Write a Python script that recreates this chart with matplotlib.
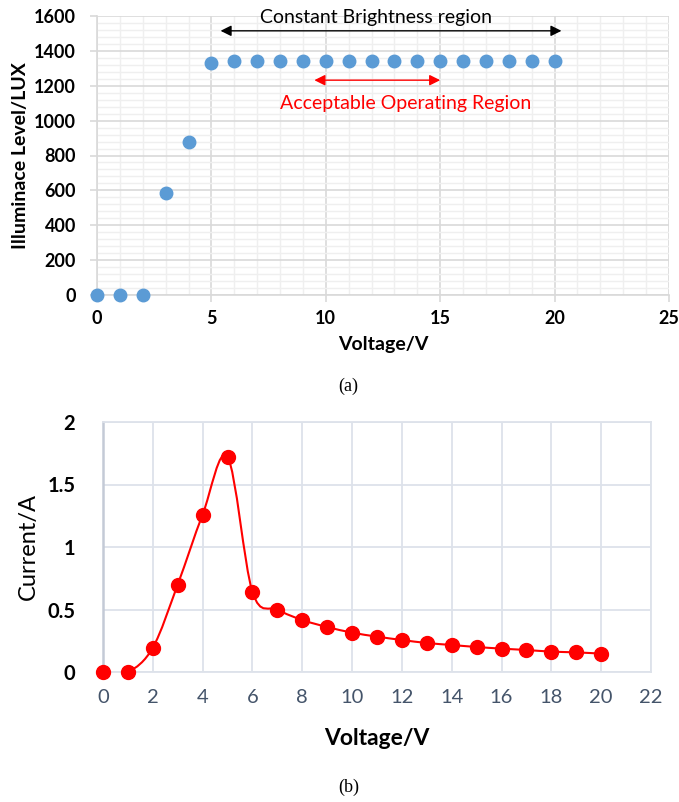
import matplotlib
matplotlib.use("Agg")
import matplotlib.pyplot as plt
import numpy as np
from matplotlib.path import Path
from matplotlib.patches import PathPatch
from matplotlib.ticker import MultipleLocator

# ---- data ----
voltage_a = [0, 1, 2, 3, 4, 5, 6, 7, 8, 9, 10, 11, 12, 13, 14, 15, 16, 17, 18, 19, 20]
illum_a = [0, 0, 0, 585, 877, 1332, 1343, 1343, 1343, 1343, 1343, 1343, 1343,
           1343, 1343, 1343, 1343, 1343, 1343, 1343, 1343]

voltage_b = [0, 1, 2, 3, 4, 5, 6, 7, 8, 9, 10, 11, 12, 13, 14, 15, 16, 17, 18, 19, 20]
current_b = [0, 0, 0.195, 0.70, 1.26, 1.72, 0.64, 0.50, 0.416, 0.36, 0.315, 0.283,
             0.256, 0.232, 0.216, 0.20, 0.187, 0.176, 0.163, 0.157, 0.147]

xticks_a = [0, 5, 10, 15, 20, 25]
yticks_a = [0, 200, 400, 600, 800, 1000, 1200, 1400, 1600]
xticks_b = [0, 2, 4, 6, 8, 10, 12, 14, 16, 18, 20, 22]
yticks_b = [0, 0.5, 1, 1.5, 2]
yticklabels_b = ["0", "0.5", "1", "1.5", "2"]

W, H = 679, 802
fig = plt.figure(figsize=(W / 100, H / 100), dpi=100)

def fx(px): return px / W
def fy(py): return 1 - py / H

FONT = ["Lato", "DejaVu Sans"]

# ---- (a) ----
ax1 = fig.add_axes([fx(97), fy(295), fx(669 - 97), (295 - 16) / H])
ax1.set_xlim(0, 25)
ax1.set_ylim(0, 1600)
ax1.set_xticks(xticks_a)
ax1.set_yticks(yticks_a)
ax1.xaxis.set_minor_locator(MultipleLocator(1))
ax1.yaxis.set_minor_locator(MultipleLocator(40))
ax1.grid(which="major", color="#d9d9d9", lw=1.2)
ax1.grid(which="minor", color="#efefef", lw=1.0)
ax1.set_axisbelow(True)
for s in ["top", "right"]:
    ax1.spines[s].set_visible(False)
for s in ["left", "bottom"]:
    ax1.spines[s].set_color("#d9d9d9")
    ax1.spines[s].set_linewidth(1.2)
ax1.tick_params(which="major", length=5, color="#d9d9d9", width=1.2, pad=4)
ax1.tick_params(which="minor", length=0)
ax1.tick_params(axis="x", labelsize=13, pad=6)
ax1.tick_params(axis="y", labelsize=13, pad=10)
for lab in ax1.get_xticklabels() + ax1.get_yticklabels():
    lab.set_fontweight("bold")
    lab.set_family(FONT)
ax1.plot(voltage_a, illum_a, "o", color="#5b9bd5", ms=9, clip_on=False, zorder=3)
ax1.set_xlabel("Voltage/V", fontsize=14, fontweight="bold", family=FONT, labelpad=6)
ax1.set_ylabel("Illuminace Level/LUX", fontsize=14, fontweight="bold", family=FONT, labelpad=4)

ax1.annotate("", xy=(5.4, 1515), xytext=(20.3, 1515),
             arrowprops=dict(arrowstyle="<|-|>", color="black", lw=1.0,
                             mutation_scale=16, shrinkA=0, shrinkB=0))
ax1.text(12.2, 1592, "Constant Brightness region", ha="center", va="center",
         fontsize=14, family=FONT, color="black")
ax1.annotate("", xy=(9.5, 1232), xytext=(15.0, 1232),
             arrowprops=dict(arrowstyle="<|-|>", color="red", lw=1.0,
                             mutation_scale=16, shrinkA=0, shrinkB=0))
ax1.text(13.5, 1097, "Acceptable Operating Region", ha="center", va="center",
         fontsize=14, family=FONT, color="red")

fig.text(fx(348), fy(386), "(a)", ha="center", va="center", fontsize=13,
         family=["Liberation Serif", "DejaVu Serif"])

# ---- (b) ----
ax2 = fig.add_axes([fx(103), fy(672), fx(651 - 103), (672 - 422) / H])
ax2.set_xlim(0, 22)
ax2.set_ylim(0, 2)
ax2.set_xticks(xticks_b)
ax2.set_yticks(yticks_b)
ax2.set_yticklabels(yticklabels_b)
ax2.grid(which="major", color="#dde2ea", lw=1.3)
ax2.set_axisbelow(True)
for s in ["top", "right", "bottom"]:
    ax2.spines[s].set_color("#dde2ea")
    ax2.spines[s].set_linewidth(1.3)
ax2.spines["left"].set_color("#c4cad6")
ax2.spines["left"].set_linewidth(1.8)
ax2.tick_params(length=0)
ax2.tick_params(axis="x", labelsize=14.5, labelcolor="#44546a", pad=12)
ax2.tick_params(axis="y", labelsize=14.5, pad=20)
for lab in ax2.get_yticklabels():
    lab.set_fontweight("bold")
    lab.set_family(FONT)
for lab in ax2.get_xticklabels():
    lab.set_family(FONT)

# smoothed line (Excel-style Catmull-Rom Bezier through the data)
xs = np.array(voltage_b, float)
ys = np.array(current_b, float)
n = len(xs)
verts = [(xs[0], ys[0])]
codes = [Path.MOVETO]
for i in range(n - 1):
    p0 = np.array([xs[max(i - 1, 0)], ys[max(i - 1, 0)]])
    p1 = np.array([xs[i], ys[i]])
    p2 = np.array([xs[i + 1], ys[i + 1]])
    p3 = np.array([xs[min(i + 2, n - 1)], ys[min(i + 2, n - 1)]])
    c1 = p1 + (p2 - p0) / 6.0
    c2 = p2 - (p3 - p1) / 6.0
    verts += [tuple(c1), tuple(c2), tuple(p2)]
    codes += [Path.CURVE4] * 3
ax2.add_patch(PathPatch(Path(verts, codes), facecolor="none", edgecolor="red", lw=1.5, zorder=2))
ax2.plot(voltage_b, current_b, "o", color="red", ms=10, zorder=3, clip_on=False)

ax2.set_xlabel("Voltage/V", fontsize=16.5, fontweight="bold", family=FONT, labelpad=16)
ax2.set_ylabel("Current/A", fontsize=17, family=FONT, labelpad=6)

fig.text(fx(349), fy(787), "(b)", ha="center", va="center", fontsize=13,
         family=["Liberation Serif", "DejaVu Serif"])

fig.savefig("out.png", dpi=100)
